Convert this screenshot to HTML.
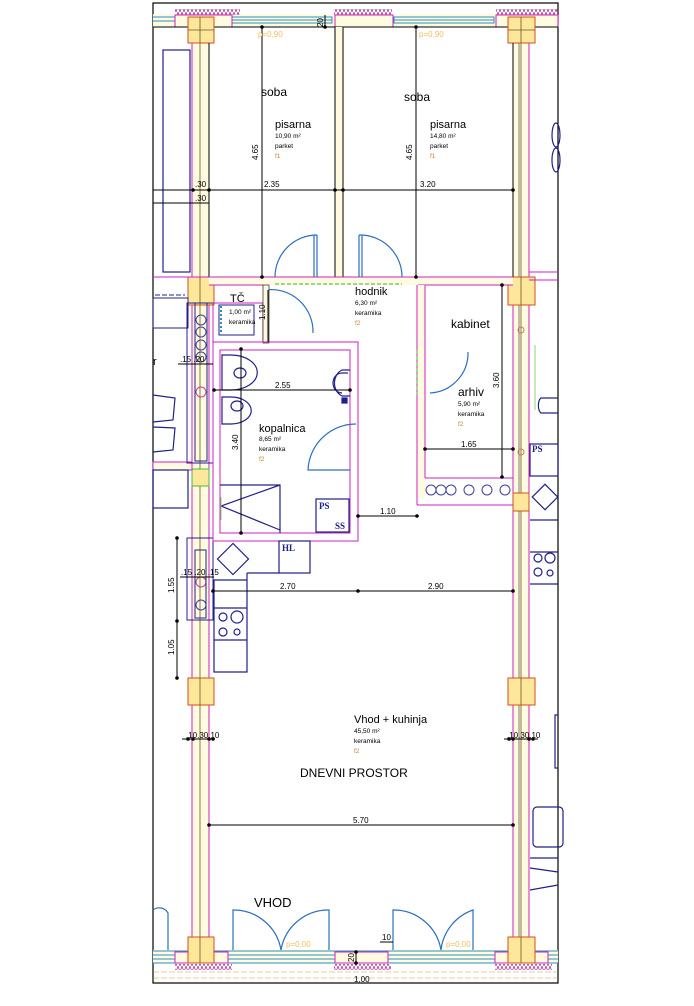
<!DOCTYPE html>
<html><head><meta charset="utf-8"><style>
html,body{margin:0;padding:0;background:#fff;}
svg{display:block;font-family:"Liberation Sans",sans-serif;}
</style></head><body>
<svg width="694" height="1006" viewBox="0 0 694 1006" xmlns="http://www.w3.org/2000/svg">
<defs>
<pattern id="hatch" width="4" height="6" patternUnits="userSpaceOnUse"><path d="M0 6 L2 0 L4 6" fill="none" stroke="#a02090" stroke-width="0.7"/></pattern>
</defs>
<rect width="694" height="1006" fill="#fff"/>
<!-- frame -->
<rect x="153" y="3" width="405" height="980" fill="none" stroke="#000" stroke-width="1.2"/>
<!-- top wall -->
<rect x="153" y="14" width="405" height="13" fill="#fffbe0"/>
<rect x="175" y="9" width="65" height="6" fill="url(#hatch)"/>
<rect x="334" y="9" width="58" height="6" fill="url(#hatch)"/>
<rect x="496" y="9" width="62" height="6" fill="url(#hatch)"/>
<g stroke="#2a8fc0" stroke-width="1" fill="none">
<line x1="153" y1="17" x2="175" y2="17"/><line x1="153" y1="21" x2="175" y2="21"/>
<rect x="232" y="17" width="100" height="6"/><line x1="232" y1="20" x2="332" y2="20"/>
<rect x="394" y="17" width="100" height="6"/><line x1="394" y1="20" x2="494" y2="20"/>
</g>
<g stroke="#d020c0" stroke-width="1" fill="none">
<rect x="175" y="15" width="57" height="12"/><rect x="335" y="15" width="58" height="12"/><rect x="496" y="15" width="62" height="12"/>
</g>
<line x1="153" y1="27" x2="558" y2="27" stroke="#000" stroke-width="1"/>
<!-- bottom wall -->
<rect x="153" y="950" width="405" height="13" fill="#fffbe0"/>
<g stroke="#2a8fc0" stroke-width="1" fill="none">
<line x1="153" y1="951" x2="558" y2="951"/><line x1="153" y1="955" x2="558" y2="955"/><line x1="153" y1="959" x2="558" y2="959"/><line x1="153" y1="963" x2="558" y2="963"/>
</g>
<g stroke="#d020c0" fill="#fffbe0"><rect x="175" y="952" width="53" height="11"/><rect x="335" y="952" width="53" height="11"/><rect x="495" y="952" width="53" height="11"/></g>
<rect x="175" y="964" width="57" height="6" fill="url(#hatch)"/>
<rect x="334" y="964" width="57" height="6" fill="url(#hatch)"/>
<rect x="495" y="964" width="57" height="6" fill="url(#hatch)"/>
<g stroke="#c8a040" stroke-width="0.6" stroke-dasharray="6,2"><line x1="153" y1="972" x2="558" y2="972"/><line x1="153" y1="978" x2="558" y2="978"/></g>
<!-- entrance doors -->
<g stroke="#2a70c0" stroke-width="1.2" fill="none">
<path d="M233 950 V910 A48 48 0 0 1 281 950"/><path d="M329 950 V910 A48 48 0 0 0 281 950"/>
<path d="M393 950 V910 A48 48 0 0 1 441 950"/><path d="M473 950 V910 A48 48 0 0 0 441 950"/>
<path d="M153 910 A10 10 0 0 1 168 913 V950"/>
</g>
<!-- left wall -->
<rect x="192" y="27" width="17" height="923" fill="#fffbe0"/>
<g stroke="#d020c0" stroke-width="1"><line x1="192" y1="27" x2="192" y2="950"/><line x1="209" y1="27" x2="209" y2="950"/></g>
<line x1="200" y1="27" x2="200" y2="950" stroke="#6a5a20" stroke-width="0.8"/>
<!-- right wall -->
<rect x="513" y="27" width="16" height="923" fill="#fffbe0"/>
<g stroke="#d020c0" stroke-width="1"><line x1="513" y1="27" x2="513" y2="950"/><line x1="529" y1="27" x2="529" y2="950"/></g>
<line x1="521" y1="27" x2="521" y2="950" stroke="#6a5a20" stroke-width="0.8"/>
<line x1="519" y1="27" x2="519" y2="950" stroke="#000" stroke-width="0.5"/>
<!-- pillars -->
<g fill="#fde79a" stroke="#d05020" stroke-width="1">
<rect x="188" y="17" width="26" height="26"/><rect x="508" y="17" width="27" height="26"/>
<rect x="188" y="277" width="26" height="28"/><rect x="508" y="277" width="27" height="28"/>
<rect x="188" y="678" width="26" height="27"/><rect x="508" y="678" width="27" height="27"/>
<rect x="188" y="937" width="26" height="26"/><rect x="508" y="937" width="27" height="26"/>
<rect x="513" y="493" width="16" height="18"/>
</g>
<rect x="192" y="469" width="17" height="17" fill="#fde79a" stroke="#40c040"/>
<g stroke="#6a5a20" stroke-width="0.8"><line x1="200" y1="17" x2="200" y2="43"/><line x1="188" y1="30" x2="214" y2="30"/><line x1="521" y1="17" x2="521" y2="43"/><line x1="508" y1="30" x2="535" y2="30"/>
<line x1="200" y1="277" x2="200" y2="305"/><line x1="521" y1="277" x2="521" y2="305"/><line x1="200" y1="678" x2="200" y2="705"/><line x1="521" y1="678" x2="521" y2="705"/><line x1="200" y1="937" x2="200" y2="963"/><line x1="521" y1="937" x2="521" y2="963"/></g>
<!-- top rooms walls -->
<rect x="335" y="27" width="8" height="250" fill="#fffbe0"/>
<g stroke="#000" stroke-width="1" fill="none">
<line x1="209" y1="43" x2="209" y2="277"/><line x1="335" y1="27" x2="335" y2="277"/><line x1="343" y1="27" x2="343" y2="277"/><line x1="513" y1="43" x2="513" y2="277"/>
<line x1="209" y1="277" x2="335" y2="277"/><line x1="343" y1="277" x2="513" y2="277"/>
</g>
<rect x="209" y="277" width="304" height="8" fill="#fffbe0"/>
<g stroke="#d020c0" stroke-width="1" fill="none">
<line x1="153" y1="277" x2="513" y2="277"/><line x1="209" y1="285" x2="263" y2="285"/><line x1="418" y1="285" x2="513" y2="285"/>
<line x1="529" y1="272" x2="558" y2="272"/><line x1="529" y1="280" x2="558" y2="280"/>
</g>
<!-- left outside -->
<rect x="163" y="50" width="27" height="222" fill="none" stroke="#20208a" stroke-width="1.2"/>
<g stroke="#000" stroke-width="1"><line x1="153" y1="190" x2="209" y2="190"/><line x1="153" y1="203" x2="209" y2="203"/></g>
<line x1="155" y1="295" x2="185" y2="295" stroke="#20208a" stroke-dasharray="5,2"/>
<rect x="153" y="298" width="35" height="30" fill="none" stroke="#20208a"/>
<path d="M153 395 L175 398 L173 420 L153 422 M153 427 L175 428 L173 450 L153 452" fill="none" stroke="#20208a" stroke-width="1.2"/>
<rect x="153" y="462" width="39" height="8" fill="#fffbe0" stroke="#d020c0"/>
<rect x="153" y="470" width="35" height="38" fill="none" stroke="#20208a" stroke-width="1.2"/>
<text x="153" y="365" font-size="11">r</text>
<!-- wall column with circles -->
<rect x="187" y="303" width="26" height="160" fill="none" stroke="#20208a"/>
<rect x="195" y="303" width="12" height="158" fill="none" stroke="#20208a"/>
<g fill="none" stroke="#4040a0"><circle cx="201" cy="320" r="5"/><circle cx="201" cy="332" r="5"/><circle cx="201" cy="345" r="5"/><circle cx="201" cy="357" r="5"/></g>
<circle cx="201" cy="392" r="5" fill="none" stroke="#c040a0"/>
<circle cx="201" cy="582" r="5" fill="none" stroke="#c040a0"/><circle cx="201" cy="605" r="5" fill="none" stroke="#4040a0"/>
<rect x="187" y="538" width="26" height="82" fill="none" stroke="#20208a"/>
<rect x="195" y="550" width="11" height="68" fill="none" stroke="#20208a"/>
<!-- doors top rooms -->
<g stroke="#2a70c0" stroke-width="1.2" fill="none">
<path d="M317 235 V277 M317 235 A42 42 0 0 0 275 277"/><line x1="314" y1="235" x2="314" y2="277"/>
<path d="M359 235 V277 M359 235 A42 42 0 0 1 402 277"/><line x1="362" y1="235" x2="362" y2="277"/>
<path d="M265 290 A42 42 0 0 1 313 333"/>
<path d="M468 352 A40 40 0 0 1 430 393"/>
<path d="M356 424 A48 48 0 0 0 308 470 H350"/>
</g>
<line x1="275" y1="284" x2="402" y2="284" stroke="#40b040" stroke-dasharray="4,2"/>
<!-- TC -->
<rect x="213" y="303" width="50" height="39" fill="none" stroke="#d020c0"/>
<rect x="219" y="305" width="35" height="30" fill="none" stroke="#20208a"/>
<line x1="221" y1="306" x2="221" y2="334" stroke="#2a8fc0" stroke-dasharray="2,2" stroke-width="2"/>
<rect x="263" y="285" width="6" height="58" fill="#fffbe0" stroke="#000" stroke-width="0.6"/>
<!-- bathroom -->
<rect x="213" y="342" width="145" height="199" fill="none" stroke="#d020c0" stroke-width="1"/>
<rect x="220" y="350" width="130" height="183" fill="none" stroke="#d020c0" stroke-width="1"/>
<g stroke="#20208a" stroke-width="1.2" fill="none">
<path d="M222 355 H231 A18 12 0 1 1 231 390 H222 Z"/><ellipse cx="240" cy="373" rx="6" ry="5"/>
<path d="M222 397 H231 A18 12 0 1 1 231 424 H222 Z"/><ellipse cx="237" cy="406" rx="6" ry="5"/>
<path d="M350 370 H342 A12 14 0 0 0 342 396 H350"/><path d="M348 373 H342 A9 10 0 0 0 342 393"/>
<rect x="342" y="398" width="5" height="5" fill="#20208a"/>
<path d="M220 485 H280 V533 M280 485 L221 506 L280 530"/>
<rect x="316" y="499" width="33" height="33"/>
</g>
<text x="319" y="509" font-size="9" font-weight="bold" fill="#20208a" font-family="Liberation Serif">PS</text>
<text x="335" y="529" font-size="9" font-weight="bold" fill="#20208a" font-family="Liberation Serif">SS</text>
<line x1="221" y1="497" x2="221" y2="520" stroke="#90d070"/>
<!-- HL / kitchen left -->
<g stroke="#20208a" stroke-width="1.2" fill="none">
<rect x="279" y="541" width="31" height="32"/>
<path d="M247 573 H279 M247 573 V672 H214 V580 H247"/>
<line x1="214" y1="608" x2="247" y2="608"/><line x1="214" y1="640" x2="247" y2="640"/>
<circle cx="223" cy="617" r="4"/><circle cx="237" cy="617" r="6"/><circle cx="223" cy="632" r="4"/><circle cx="237" cy="632" r="3"/>
<rect x="222" y="548" width="22" height="22" transform="rotate(45 233 559) translate(0 0)"/>
</g>
<text x="282" y="551" font-size="9" font-weight="bold" fill="#20208a" font-family="Liberation Serif">HL</text>
<!-- kabinet -->
<rect x="417" y="285" width="8" height="213" fill="#fffbe0"/>
<g stroke="#d020c0" fill="none"><line x1="417" y1="285" x2="417" y2="505"/><line x1="425" y1="285" x2="425" y2="478"/><line x1="417" y1="505" x2="513" y2="505"/><line x1="425" y1="478" x2="513" y2="478"/></g>
<line x1="417" y1="350" x2="417" y2="395" stroke="#40b040" stroke-dasharray="4,2"/>
<g fill="none" stroke="#4040a0"><circle cx="431" cy="490" r="5"/><circle cx="441" cy="490" r="5"/><circle cx="451" cy="490" r="5"/><circle cx="469" cy="490" r="5"/><circle cx="487" cy="490" r="5"/><circle cx="505" cy="490" r="5"/></g>
<!-- right outside -->
<g stroke="#20208a" stroke-width="1.2" fill="none">
<path d="M558 398 H541 A4 8 0 0 0 541 413 H558"/>
<rect x="530" y="444" width="28" height="32"/>
<rect x="536" y="488" width="18" height="18" transform="rotate(45 545 497)"/>
<path d="M530 520 H558 M530 552 H558 M530 584 H558"/>
<circle cx="538" cy="558" r="4"/><circle cx="550" cy="558" r="5"/><circle cx="538" cy="572" r="4"/><circle cx="550" cy="573" r="3"/>
<path d="M558 715 H555 V768 H558"/>
<rect x="533" y="807" width="30" height="40" rx="4"/>
<path d="M530 858 H558 M530 868 L558 872 M530 890 L558 885"/>
<ellipse cx="556" cy="135" rx="4" ry="12"/><ellipse cx="556" cy="160" rx="4" ry="12"/>
</g>
<text x="532" y="452" font-size="9" font-weight="bold" fill="#20208a" font-family="Liberation Serif">PS</text>
<g fill="none" stroke="#c08060"><circle cx="521" cy="330" r="3"/><circle cx="521" cy="452" r="3"/></g>
<line x1="535" y1="345" x2="535" y2="410" stroke="#90d070"/>
<!-- dimension lines -->
<g stroke="#000" stroke-width="1" fill="none">
<line x1="262" y1="27" x2="262" y2="277"/><line x1="416" y1="27" x2="416" y2="277"/>
<line x1="153" y1="190" x2="513" y2="190"/>
<line x1="268" y1="290" x2="268" y2="342"/>
<line x1="214" y1="390" x2="350" y2="390"/>
<line x1="241" y1="349" x2="241" y2="533"/>
<line x1="502" y1="285" x2="502" y2="477"/>
<line x1="425" y1="449" x2="513" y2="449"/>
<line x1="358" y1="516" x2="417" y2="516"/>
<line x1="213" y1="591" x2="513" y2="591"/>
<line x1="209" y1="825" x2="513" y2="825"/>
<line x1="177" y1="538" x2="177" y2="678"/>
<line x1="178" y1="364" x2="213" y2="364"/>
<line x1="180" y1="577" x2="214" y2="577"/>
<line x1="182" y1="739" x2="215" y2="739"/><line x1="504" y1="739" x2="538" y2="739"/>
<line x1="325" y1="15" x2="325" y2="27"/><line x1="356" y1="952" x2="356" y2="963"/>
<line x1="380" y1="942" x2="393" y2="942"/>
</g>
<g fill="#000">
<circle cx="262" cy="27" r="1.8"/><circle cx="262" cy="277" r="1.8"/><circle cx="416" cy="27" r="1.8"/><circle cx="416" cy="277" r="1.8"/>
<circle cx="193" cy="190" r="1.8"/><circle cx="209" cy="190" r="1.8"/><circle cx="335" cy="190" r="1.8"/><circle cx="343" cy="190" r="1.8"/><circle cx="513" cy="190" r="1.8"/>
<circle cx="214" cy="390" r="1.8"/><circle cx="350" cy="390" r="1.8"/><circle cx="241" cy="349" r="1.8"/><circle cx="241" cy="533" r="1.8"/>
<circle cx="502" cy="285" r="1.8"/><circle cx="502" cy="477" r="1.8"/><circle cx="425" cy="449" r="1.8"/><circle cx="513" cy="449" r="1.8"/>
<circle cx="358" cy="516" r="1.8"/><circle cx="417" cy="516" r="1.8"/>
<circle cx="213" cy="591" r="1.8"/><circle cx="358" cy="591" r="1.8"/><circle cx="513" cy="591" r="1.8"/>
<circle cx="209" cy="825" r="1.8"/><circle cx="513" cy="825" r="1.8"/>
<circle cx="177" cy="538" r="1.8"/><circle cx="177" cy="621" r="1.8"/><circle cx="177" cy="678" r="1.8"/>
<circle cx="188" cy="739" r="1.8"/><circle cx="193" cy="739" r="1.8"/><circle cx="209" cy="739" r="1.8"/><circle cx="213" cy="739" r="1.8"/>
<circle cx="509" cy="739" r="1.8"/><circle cx="513" cy="739" r="1.8"/><circle cx="529" cy="739" r="1.8"/><circle cx="533" cy="739" r="1.8"/>
<circle cx="325" cy="27" r="1.8"/><circle cx="356" cy="952" r="1.8"/><circle cx="356" cy="963" r="1.8"/>
</g>
<!-- text -->
<g font-size="12" fill="#000">
<text x="261" y="96">soba</text><text x="404" y="101">soba</text>
<text x="275" y="128" font-size="11">pisarna</text><text x="430" y="128" font-size="11">pisarna</text>
<text x="355" y="295" font-size="11">hodnik</text>
<text x="451" y="328">kabinet</text>
<text x="458" y="396">arhiv</text>
<text x="259" y="432" font-size="11">kopalnica</text>
<text x="230" y="302" font-size="11">TČ</text>
<text x="354" y="723" font-size="11">Vhod + kuhinja</text>
<text x="300" y="777" font-size="12">DNEVNI PROSTOR</text>
<text x="254" y="907" font-size="13">VHOD</text>
</g>
<g font-size="6.5" fill="#000">
<text x="275" y="138">10,90 m²</text><text x="275" y="148">parket</text>
<text x="430" y="138">14,80 m²</text><text x="430" y="148">parket</text>
<text x="355" y="305">6,30 m²</text><text x="355" y="315">keramika</text>
<text x="458" y="406">5,90 m²</text><text x="458" y="416">keramika</text>
<text x="259" y="441">8,65 m²</text><text x="259" y="451">keramika</text>
<text x="229" y="314">1,00 m²</text><text x="229" y="324">keramika</text>
<text x="354" y="733">45,50 m²</text><text x="354" y="743">keramika</text>
</g>
<g font-size="6.5" fill="#d08030">
<text x="275" y="158">f1</text><text x="430" y="158">f1</text><text x="355" y="325">f2</text><text x="458" y="426">f2</text><text x="259" y="461">f2</text><text x="354" y="753">f2</text>
<text x="258" y="37" font-size="8" fill="#f0c060">p=0,90</text><text x="419" y="37" font-size="8" fill="#f0c060">p=0,90</text>
<text x="286" y="947" font-size="8" fill="#f0c060">p=0,00</text><text x="446" y="947" font-size="8" fill="#f0c060">p=0,00</text>
</g>
<g font-size="8" fill="#000">
<text x="264" y="187">2.35</text><text x="420" y="187">3.20</text>
<text x="195" y="187">.30</text><text x="195" y="201">.30</text>
<text x="275" y="388">2.55</text><text x="461" y="447">1.65</text><text x="380" y="514">1.10</text>
<text x="280" y="589">2.70</text><text x="428" y="589">2.90</text><text x="353" y="823">5.70</text>
<text x="180" y="362">.15 .20</text><text x="181" y="575">.15 .20 .15</text>
<text x="186" y="738">.10.30.10</text><text x="507" y="738">.10.30.10</text>
<text x="382" y="940">10</text><text x="354" y="982">1,00</text>
<text transform="translate(258 160) rotate(-90)">4.65</text><text transform="translate(412 160) rotate(-90)">4.65</text>
<text transform="translate(265 320) rotate(-90)">1.10</text><text transform="translate(238 450) rotate(-90)">3.40</text>
<text transform="translate(499 388) rotate(-90)">3.60</text>
<text transform="translate(174 593) rotate(-90)">1.55</text><text transform="translate(174 655) rotate(-90)">1.05</text>
<text transform="translate(323 27) rotate(-90)">20</text><text transform="translate(354 962) rotate(-90)">20</text>
</g>
</svg>
</body></html>
